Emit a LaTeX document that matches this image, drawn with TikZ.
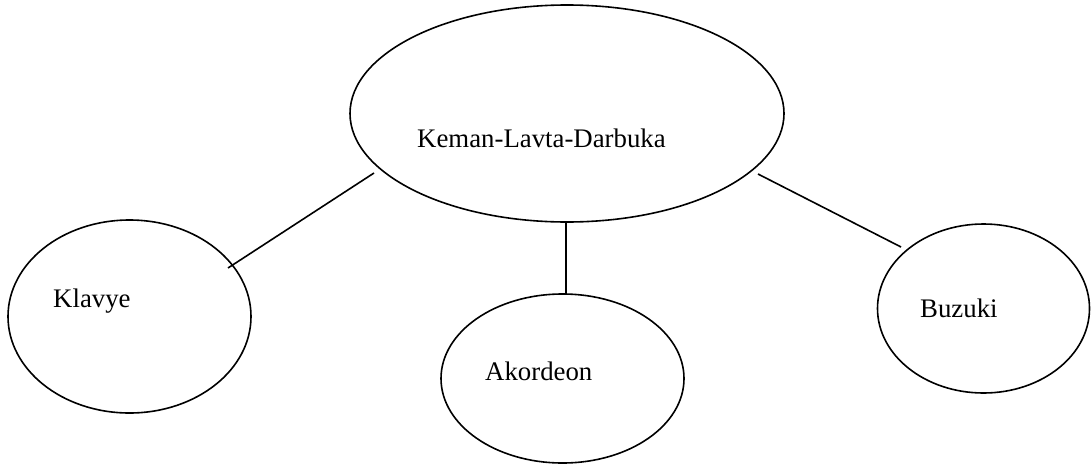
\documentclass[tikz,border=0pt]{standalone}
\usepackage{fontspec}
\setmainfont{Liberation Serif}
\usetikzlibrary{shapes.geometric}
\begin{document}
\begin{tikzpicture}[x=1pt,y=-1pt,
  oval/.style={draw, ellipse, line width=1.6pt, inner sep=0pt, outer sep=0pt},
  lbl/.style={anchor=base west, inner sep=0pt, font=\fontsize{26.8}{30}\selectfont},
  link/.style={line width=1.6pt}]
\useasboundingbox (0,0) rectangle (1091,466);
% ellipses
\node[oval, minimum width=434pt, minimum height=217pt] (top) at (567,113.5) {};
\node[oval, minimum width=243pt, minimum height=193pt] (klavye) at (129.5,316.5) {};
\node[oval, minimum width=243pt, minimum height=169pt] (akordeon) at (562.5,378.5) {};
\node[oval, minimum width=212pt, minimum height=169pt] (buzuki) at (983.5,308.5) {};
% labels
\node[lbl] (ttop) at (417,147) {Keman-Lavta-Darbuka};
\node[lbl] (tklavye) at (53,307) {Klavye};
\node[lbl] (takordeon) at (485,380) {Akordeon};
\node[lbl] (tbuzuki) at (920,317) {Buzuki};
% connector ends
\coordinate (l1a) at (374,173);
\coordinate (l1b) at (228,268);
\coordinate (l2a) at (566,222);
\coordinate (l2b) at (566,294);
\coordinate (l3a) at (758,174);
\coordinate (l3b) at (901,247);
\draw[link] (l1a) -- (l1b);
\draw[link] (l2a) -- (l2b);
\draw[link] (l3a) -- (l3b);
\end{tikzpicture}
\end{document}
